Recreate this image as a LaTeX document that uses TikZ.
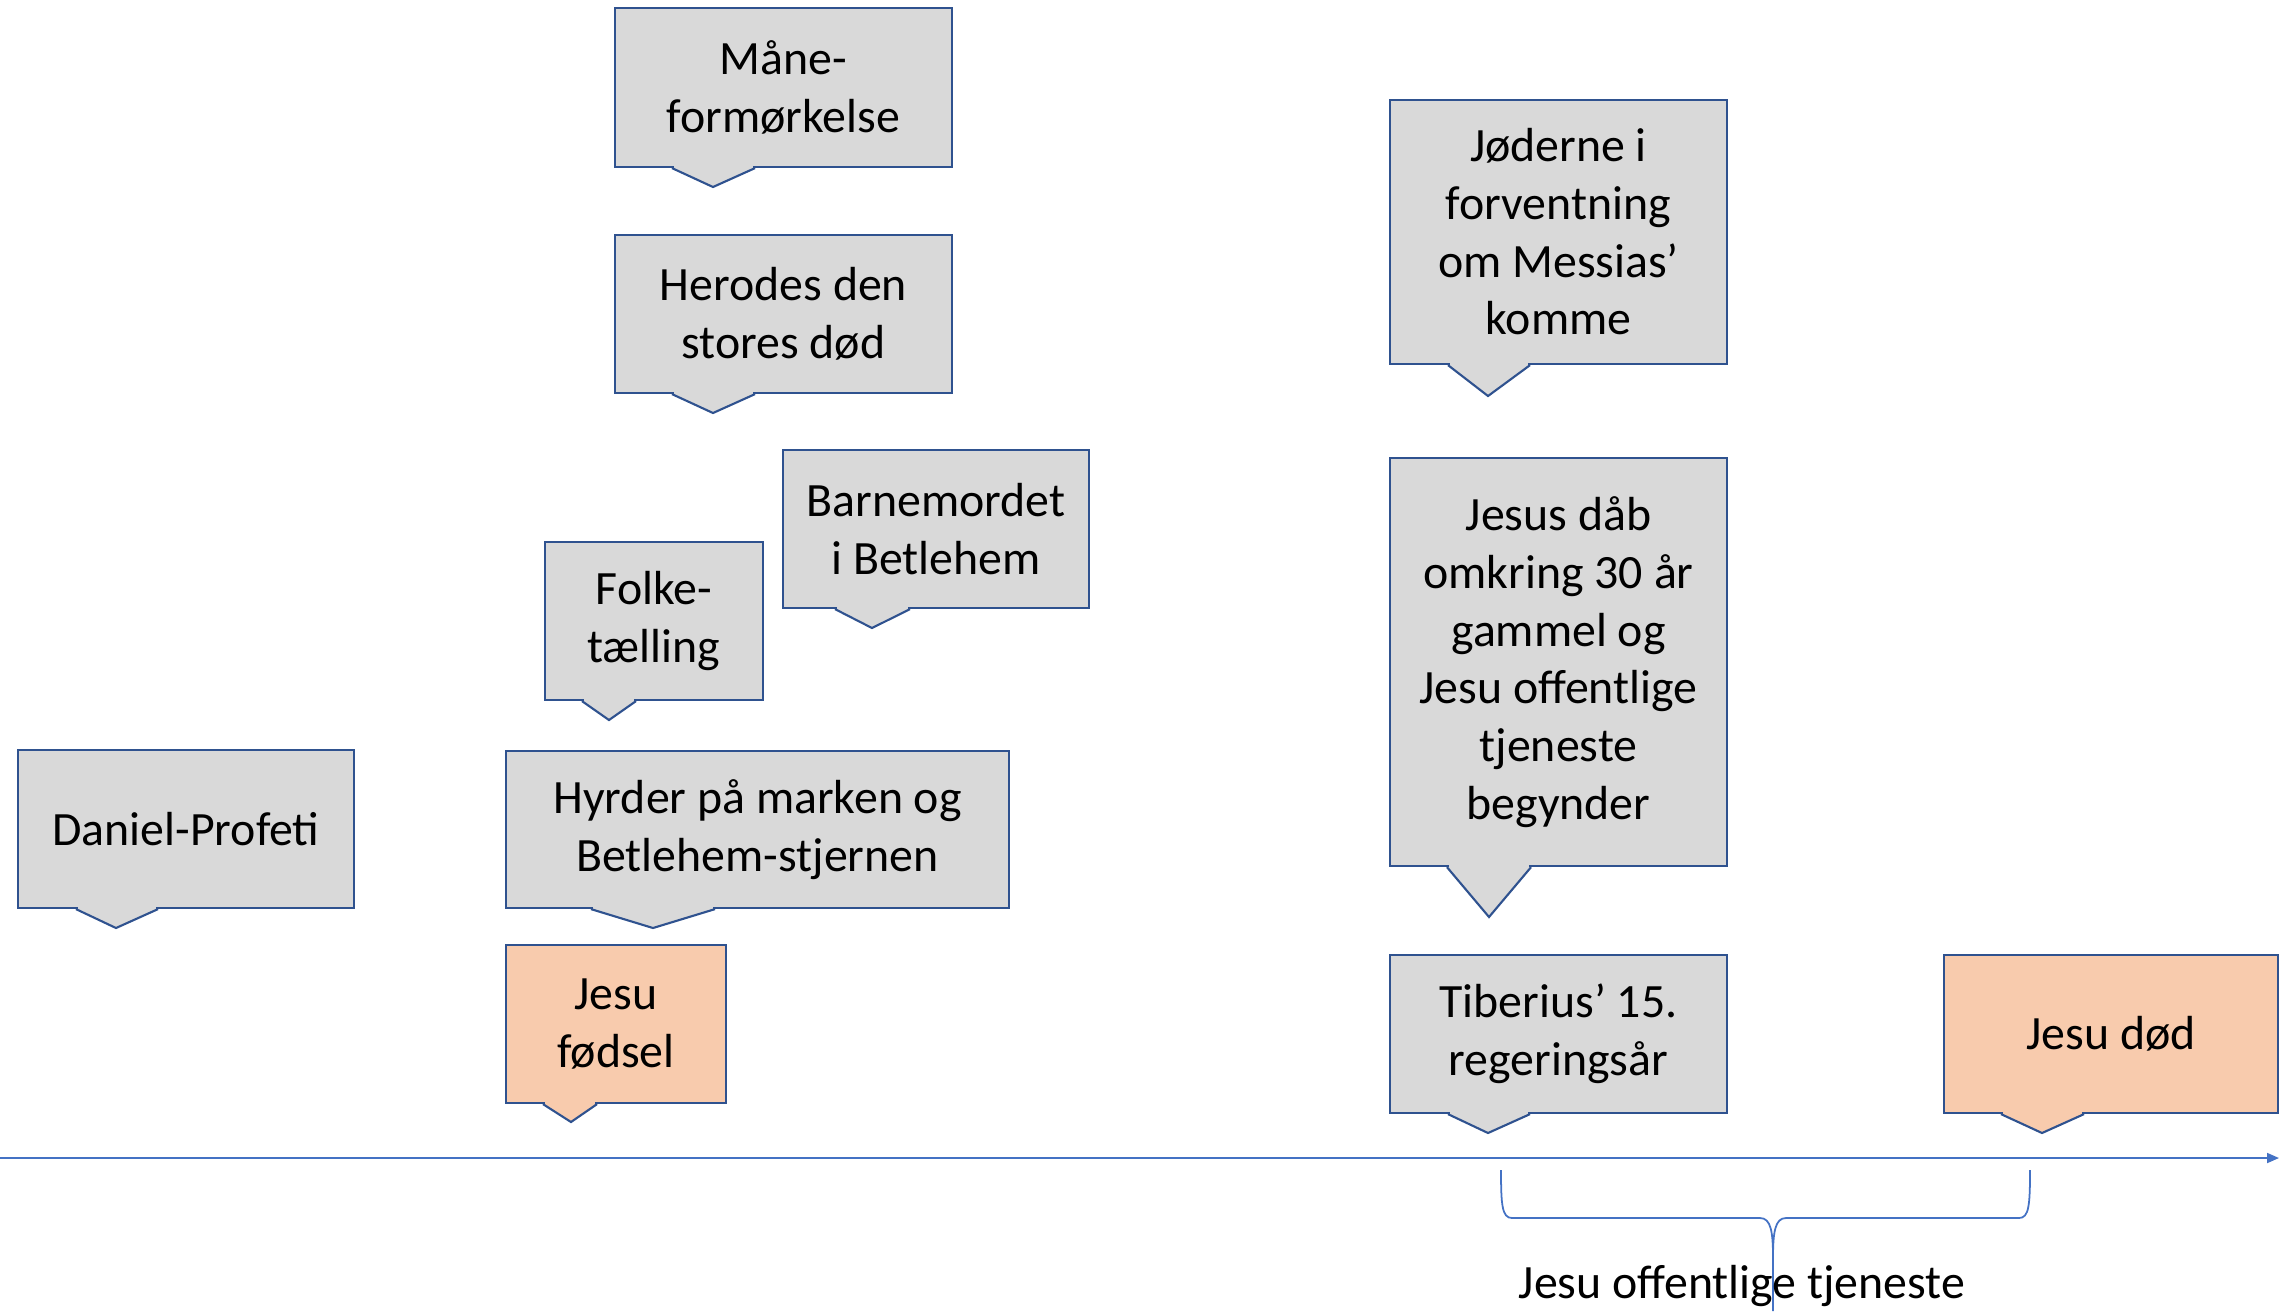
\documentclass[tikz,border=0pt]{standalone}
\usepackage{fontspec}
\setmainfont{Carlito}
\usepackage{tikz}
\usetikzlibrary{shapes,arrows.meta}
\definecolor{boxgray}{HTML}{D9D9D9}
\definecolor{boxorange}{HTML}{F8CBAD}
\definecolor{boxblue}{HTML}{2F528F}
\definecolor{axisblue}{HTML}{4472C4}
\tikzstyle{rim} = [draw=boxblue, line width=0.6pt]
\tikzstyle{event} = [rectangle, rim, fill=boxgray, align=center, inner sep=0pt,
    font=\fontsize{13.6pt}{16.4pt}\selectfont]
\tikzstyle{milestone} = [event, fill=boxorange]
\tikzstyle{line} = [draw=axisblue, line width=0.5pt]
% tail under a box: node, base left x, base right x, tip
\newcommand{\eventtail}[5][boxgray]{%
  \fill[#1] (#3,0 |- #2.south) -- (#5) -- (#4,0 |- #2.south) -- cycle;
  \draw[#1, line width=1pt] (#3+2,0 |- #2.south) -- (#4-2,0 |- #2.south);
  \draw[rim] (#3,0 |- #2.south) -- (#5) -- (#4,0 |- #2.south);
}

\begin{document}
\begin{tikzpicture}[x=0.01cm, y=-0.01cm]
    \useasboundingbox (0,0) rectangle (2279,1311);
    % Place nodes
    \node [event, minimum width=3.37cm, minimum height=1.59cm] (mane) at (783.5,87.5) {Måne-\\formørkelse};
    \node [event, minimum width=3.37cm, minimum height=1.58cm] (herodes) at (783.5,314) {Herodes den\\stores død};
    \node [event, minimum width=3.06cm, minimum height=1.58cm] (barne) at (936,529) {Barnemordet\\i Betlehem};
    \node [event, minimum width=2.18cm, minimum height=1.58cm] (folke) at (654,621) {Folke-\\tælling};
    \node [event, minimum width=3.36cm, minimum height=1.58cm] (daniel) at (186,829) {Daniel-Profeti};
    \node [event, minimum width=5.03cm, minimum height=1.57cm] (hyrder) at (757.5,829.5) {Hyrder på marken og\\Betlehem-stjernen};
    \node [milestone, minimum width=2.20cm, minimum height=1.58cm] (fodsel) at (616,1024) {Jesu\\fødsel};
    \node [event, minimum width=3.37cm, minimum height=2.64cm] (joderne) at (1558.5,232) {Jøderne i\\forventning\\om Messias’\\komme};
    \node [event, minimum width=3.37cm, minimum height=4.08cm] (daab) at (1558.5,662) {Jesus dåb\\omkring 30 år\\gammel og\\Jesu offentlige\\tjeneste\\begynder};
    \node [event, minimum width=3.37cm, minimum height=1.58cm] (tiberius) at (1558.5,1034) {Tiberius’ 15.\\regeringsår};
    \node [milestone, minimum width=3.34cm, minimum height=1.58cm] (dod) at (2111,1034) {Jesu død};
    % Tails
    \eventtail{mane}{672}{755}{713,187}
    \eventtail{herodes}{672}{755}{713,413}
    \eventtail{barne}{835}{910}{872,628}
    \eventtail{folke}{582}{636}{609,720}
    \eventtail{daniel}{76}{158}{116,928}
    \eventtail{hyrder}{591}{715}{653,928}
    \eventtail[boxorange]{fodsel}{543}{597}{571,1122}
    \eventtail{joderne}{1448}{1530}{1488,396}
    \eventtail{daab}{1447}{1531}{1489,917}
    \eventtail{tiberius}{1448}{1530}{1488,1133}
    \eventtail[boxorange]{dod}{2001}{2084}{2042,1133}
    % Time axis
    \coordinate (start) at (0,1158);
    \coordinate (end) at (2279,1158);
    \path [line, -{Triangle[length=0.12cm, width=0.1cm]}] (start) -- (end);
    % Brace
    \coordinate (bleft) at (1501,1170);
    \coordinate (bright) at (2030,1170);
    \coordinate (bmid) at (1773,1311);
    \path [line] (bleft) .. controls (1501,1205) and (1502,1218) .. (1512,1218) -- (1760,1218)
        .. controls (1771,1218) and (1773,1232) .. (1773,1258) -- (bmid);
    \path [line] (bright) .. controls (2030,1205) and (2029,1218) .. (2019,1218) -- (1786,1218)
        .. controls (1775,1218) and (1773,1232) .. (1773,1258);
    \node [font=\fontsize{13.6pt}{16.4pt}\selectfont, anchor=base] (span) at (1742,1298) {Jesu offentlige tjeneste};
\end{tikzpicture}
\end{document}
